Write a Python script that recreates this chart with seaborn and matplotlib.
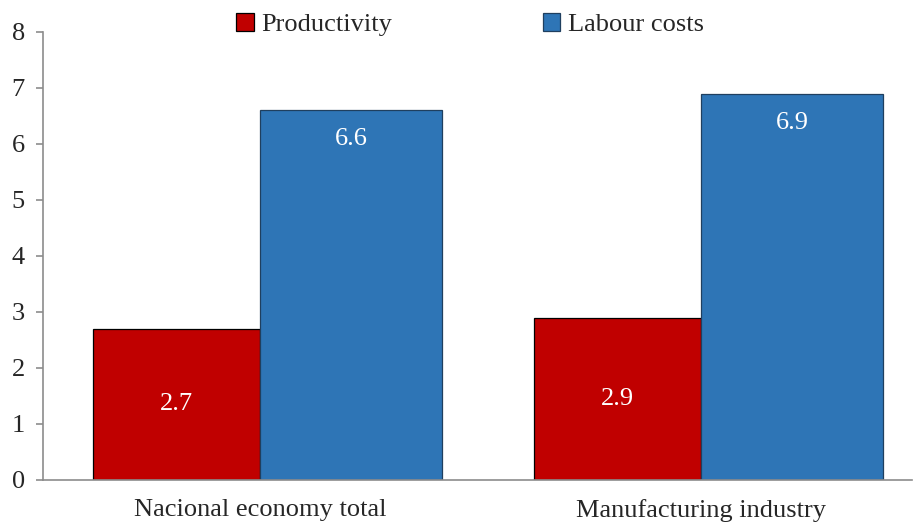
import pandas as pd
import seaborn as sns
import matplotlib
matplotlib.use('Agg')
import matplotlib.pyplot as plt
from matplotlib.patches import Patch

categories = ['Nacional economy total', 'Manufacturing industry']
series = ['Productivity', 'Labour costs']
productivity = [2.7, 2.9]
labour_costs = [6.6, 6.9]

df = pd.DataFrame({
    'Category': categories * 2,
    'Series': [series[0]] * 2 + [series[1]] * 2,
    'Value': productivity + labour_costs,
})

sns.set_style('white')
plt.rcParams['font.family'] = ['Liberation Serif', 'DejaVu Serif']

fig = plt.figure(figsize=(9.13, 5.24), dpi=100)
ax = fig.add_axes([0.047, 0.084, 0.952, 0.855])

colors = {'Productivity': '#C00000', 'Labour costs': '#2E75B6'}
edges = {'Productivity': 'black', 'Labour costs': '#1F3F5F'}
sns.barplot(data=df, x='Category', y='Value', hue='Series', palette=colors,
            width=0.8, ax=ax, legend=False, saturation=1)

rw, bw = 0.379, 0.413
# uneven widths as in the original: red narrower than blue, meeting at the centre
for i, p in enumerate(ax.patches[:4]):
    c = i % 2
    if i < 2:
        p.set_x(c - rw)
        p.set_width(rw)
        p.set_edgecolor(edges['Productivity'])
    else:
        p.set_x(c)
        p.set_width(bw)
        p.set_edgecolor(edges['Labour costs'])
    p.set_linewidth(0.9)

fs = 19
for c in range(2):
    ax.text(c - rw / 2, productivity[c] / 2, f'{productivity[c]}', color='white',
            ha='center', va='center', fontsize=fs)
    ax.text(c + bw / 2, labour_costs[c] - 0.52, f'{labour_costs[c]}', color='white',
            ha='center', va='center', fontsize=fs)

ax.set_ylim(0, 8)
ax.set_xlim(-0.492, 1.478)
ax.set_yticks(range(9))
ax.set_xlabel('')
ax.set_ylabel('')
for s in ['top', 'right']:
    ax.spines[s].set_visible(False)
for s in ['left', 'bottom']:
    ax.spines[s].set_color('#8C8C8C')
    ax.spines[s].set_linewidth(1.2)
ax.tick_params(axis='y', which='major', length=5, width=1.2, color='#8C8C8C',
               labelsize=fs, pad=8, left=True)
ax.tick_params(axis='x', length=0, labelsize=fs, pad=14)

handles = [Patch(facecolor=colors[s], edgecolor=edges[s], linewidth=0.9) for s in series]
fig.legend(handles, series, loc='upper center', bbox_to_anchor=(0.515, 1.02), ncol=2,
           frameon=False, fontsize=fs, handlelength=0.65, handleheight=0.65,
           handletextpad=0.3, columnspacing=5.7)

fig.savefig('out.png', dpi=100)
